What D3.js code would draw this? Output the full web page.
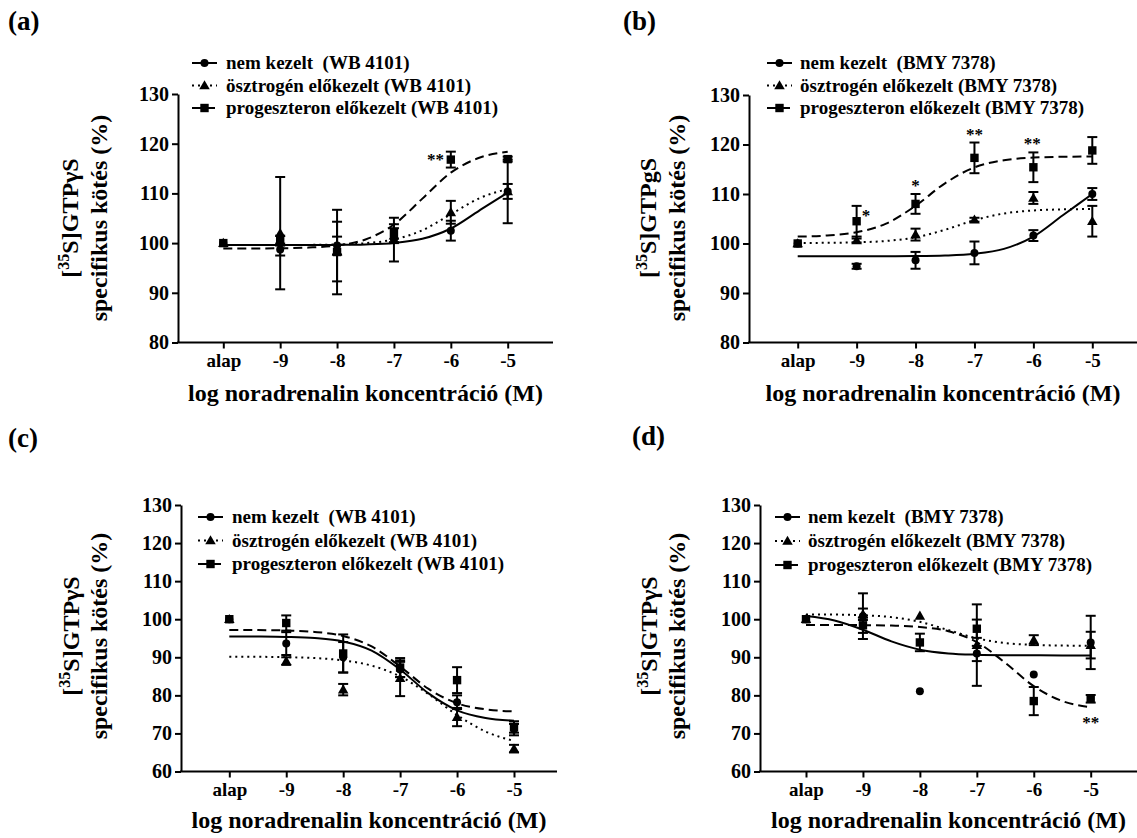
<!DOCTYPE html>
<html><head><meta charset="utf-8">
<script src="https://cdn.jsdelivr.net/npm/d3@7"></script>
<style>
body{margin:0;background:#fff;}
svg{display:block;}
svg text{font-family:"Liberation Serif","Times New Roman",Times,"DejaVu Serif",serif !important;font-weight:bold;fill:#000;}
</style></head><body>
<svg id="chart" width="1137" height="838"></svg>
<script>
// ---------- categories / ticks ----------
const xCats = [-10, -9, -8, -7, -6, -5];
const xTickLabels = ["alap", "-9", "-8", "-7", "-6", "-5"];
const curveX = [-10, -9.5, -9, -8.5, -8, -7.5, -7, -6.5, -6, -5.5, -5];
const yTicksTop = [80, 90, 100, 110, 120, 130];
const yTicksBottom = [60, 70, 80, 90, 100, 110, 120, 130];

const legendWB = ["nem kezelt  (WB 4101)", "ösztrogén előkezelt (WB 4101)", "progeszteron előkezelt (WB 4101)"];
const legendBMY = ["nem kezelt  (BMY 7378)", "ösztrogén előkezelt (BMY 7378)", "progeszteron előkezelt (BMY 7378)"];
const panelLabels = ["(a)", "(b)", "(c)", "(d)"];
const xTitle = "log noradrenalin koncentráció (M)";

// ---------- panel (a) ----------
const aNem = [100, 98.7, 99.5, 100.7, 102.5, 110.4];
const aNemSem = [0, 1.2, 1.8, 4.4, 2.0, 6.4];
const aOszt = [100, 102.0, 98.3, 101.5, 106.2, 110.4];
const aOsztSem = [0, 11.3, 6.0, 1.5, 2.3, 1.5];
const aProg = [100, 100.5, 98.2, 102.0, 116.8, 116.9];
const aProgSem = [0, 1.0, 8.5, 1.8, 1.6, 0.5];
const aNemFit = [99.60, 99.60, 99.60, 99.61, 99.64, 99.74, 100.03, 100.86, 102.94, 106.55, 110.16];
const aOsztFit = [99.60, 99.60, 99.61, 99.64, 99.72, 99.98, 100.73, 102.58, 105.80, 109.02, 110.87];
const aProgFit = [98.91, 98.92, 98.96, 99.10, 99.52, 100.73, 103.73, 108.95, 114.17, 117.17, 118.38];
const aStars = [{x: -6.27, y: 117.4, t: "**"}];

// ---------- panel (b) ----------
const bNem = [100, 95.4, 96.6, 98.1, 101.6, 110.0];
const bNemSem = [0, 0.5, 1.7, 2.3, 1.1, 1.2];
const bOszt = [100, 100.6, 101.8, 104.8, 109.2, 104.5];
const bOsztSem = [0, 0.4, 1.2, 0.4, 1.2, 3.1];
const bProg = [100, 104.5, 108.0, 117.3, 115.4, 118.8];
const bProgSem = [0, 3.1, 2.0, 3.1, 3.0, 2.7];
const bNemFit = [97.40, 97.40, 97.40, 97.42, 97.45, 97.56, 97.91, 98.91, 101.39, 105.70, 110.01];
const bOsztFit = [100.11, 100.14, 100.24, 100.51, 101.25, 102.77, 104.70, 106.06, 106.67, 106.89, 106.97];
const bProgFit = [101.40, 101.62, 102.27, 104.01, 107.61, 112.16, 115.38, 116.82, 117.35, 117.52, 117.57];
const bStars = [{x: -8.84, y: 106.2, t: "*"}, {x: -8.0, y: 112.3, t: "*"}, {x: -7.0, y: 122.5, t: "**"}, {x: -6.02, y: 120.7, t: "**"}];

// ---------- panel (c) ----------
const cNem = [100, 93.6, 90.0, 86.8, 78.2, 71.0];
const cNemSem = [0, 3.0, 4.0, 2.0, 1.8, 1.5];
const cOszt = [100, 89.0, 81.5, 84.5, 74.3, 66.0];
const cOsztSem = [0, 1.0, 1.5, 4.7, 2.4, 1.0];
const cProg = [100, 99.0, 91.0, 87.3, 84.0, 71.7];
const cProgSem = [0, 2.0, 5.0, 2.5, 3.4, 1.5];
const cNemFit = [95.49, 95.46, 95.36, 95.06, 94.16, 91.76, 86.80, 80.51, 76.07, 74.07, 73.35];
const cOsztFit = [90.17, 90.13, 90.03, 89.79, 89.19, 87.81, 84.97, 80.30, 74.83, 70.51, 68.02];
const cProgFit = [97.18, 97.15, 97.03, 96.67, 95.60, 92.84, 87.59, 81.68, 77.93, 76.33, 75.77];
const cStars = [];

// ---------- panel (d) ----------
const dNem = [100, 100.8, 81.1, 91.0, 85.5, 93.9];
const dNemSem = [0, 6.0, 0, 2.0, 0, 7.0];
const dOszt = [100, 101.3, 100.9, 93.2, 94.5, 93.2];
const dOsztSem = [0, 1.5, 0, 10.7, 1.3, 3.5];
const dProg = [100, 98.4, 93.9, 97.5, 78.5, 79.1];
const dProgSem = [0, 2.0, 2.3, 2.4, 3.7, 1.0];
const dNemFit = [100.85, 99.67, 97.24, 94.17, 92.00, 91.02, 90.67, 90.55, 90.52, 90.50, 90.50];
const dOsztFit = [101.27, 101.22, 101.05, 100.55, 99.31, 97.15, 94.99, 93.75, 93.25, 93.08, 93.03];
const dProgFit = [98.49, 98.48, 98.44, 98.32, 97.95, 96.84, 93.98, 88.54, 82.41, 78.52, 76.86];
const dStars = [{x: -5.0, y: 73.4, t: "**"}];

// ---------- layout ----------
const styles = [
  {dash: null, marker: "circle"},
  {dash: "2,4", marker: "triangle"},
  {dash: "9,5", marker: "square"}
];

const panels = [
  {label: panelLabels[0], lx: 8, ly: 30, ox: 178, x0: 223.3, x5: 507.7, right: 553, yTop: 94, yBot: 342.5,
   yDomain: [80, 130], yTicks: yTicksTop, leg: legendWB, legX: 192, legY: 63, legDy: 22.5, legTx: 226,
   yt1: 78, yt2: 107, ycy: 218, gtp: "γ", xTit: 58,
   series: [[aNem, aNemSem, aNemFit], [aOszt, aOsztSem, aOsztFit], [aProg, aProgSem, aProgFit]], stars: aStars},
  {label: panelLabels[1], lx: 623, ly: 30, ox: 749, x0: 797.7, x5: 1092.3, right: 1137, yTop: 95, yBot: 342.5,
   yDomain: [80, 130], yTicks: yTicksTop, leg: legendBMY, legX: 767, legY: 63, legDy: 22.5, legTx: 800,
   yt1: 656, yt2: 685, ycy: 218, gtp: "g", xTit: 58,
   series: [[bNem, bNemSem, bNemFit], [bOszt, bOsztSem, bOsztFit], [bProg, bProgSem, bProgFit]], stars: bStars},
  {label: panelLabels[2], lx: 8, ly: 447, ox: 181, x0: 229.3, x5: 514, right: 557, yTop: 505, yBot: 771.5,
   yDomain: [60, 130], yTicks: yTicksBottom, leg: legendWB, legX: 198, legY: 517, legDy: 23.5, legTx: 232,
   yt1: 79, yt2: 107, ycy: 636, gtp: "γ", xTit: 56,
   series: [[cNem, cNemSem, cNemFit], [cOszt, cOsztSem, cOsztFit], [cProg, cProgSem, cProgFit]], stars: cStars},
  {label: panelLabels[3], lx: 632, ly: 445, ox: 760, x0: 806, x5: 1090.7, right: 1137, yTop: 505, yBot: 771.5,
   yDomain: [60, 130], yTicks: yTicksBottom, leg: legendBMY, legX: 775, legY: 517, legDy: 24, legTx: 808,
   yt1: 657, yt2: 685, ycy: 636, gtp: "γ", xTit: 56,
   series: [[dNem, dNemSem, dNemFit], [dOszt, dOsztSem, dOsztFit], [dProg, dProgSem, dProgFit]], stars: dStars}
];

const FONT = '"Liberation Serif","Times New Roman",Times,serif';
const svg = d3.select("#chart").attr("font-family", FONT);
svg.append("rect").attr("width", 1137).attr("height", 838).attr("fill", "#fff");

function drawMarker(g, type, cx, cy) {
  if (type === "circle") {
    g.append("circle").attr("cx", cx).attr("cy", cy).attr("r", 4).attr("fill", "#000");
  } else if (type === "square") {
    g.append("rect").attr("x", cx - 4.2).attr("y", cy - 4.2).attr("width", 8.4).attr("height", 8.4).attr("fill", "#000");
  } else {
    g.append("path").attr("d", d3.symbol(d3.symbolTriangle, 48)()).attr("transform", `translate(${cx},${cy + 0.8})`).attr("fill", "#000");
  }
}

panels.forEach(p => {
  const g = svg.append("g").attr("font-family", FONT);
  const x = d3.scaleLinear().domain([-10, -5]).range([p.x0, p.x5]);
  const y = d3.scaleLinear().domain(p.yDomain).range([p.yBot, p.yTop]);

  // panel label
  g.append("text").attr("x", p.lx).attr("y", p.ly).attr("font-size", 27).text(p.label);

  // y axis
  const ya = g.append("g").attr("transform", `translate(${p.ox},0)`)
    .call(d3.axisLeft(y).tickValues(p.yTicks).tickSize(6).tickPadding(3).tickSizeOuter(0));
  ya.attr("font-family", FONT).attr("font-size", 20);
  ya.selectAll("text").attr("font-size", 20).attr("fill", "#000");
  ya.selectAll("line,path").attr("stroke", "#000").attr("stroke-width", 2);

  // x axis
  const xa = g.append("g").attr("transform", `translate(0,${p.yBot})`)
    .call(d3.axisBottom(x).tickValues(xCats).tickFormat((d, i) => xTickLabels[i]).tickSize(6).tickPadding(5).tickSizeOuter(0));
  xa.attr("font-family", FONT).attr("font-size", 19);
  xa.select(".domain").attr("d", `M${p.ox - 1},0H${p.right}`);
  xa.selectAll("text").attr("font-size", 19).attr("fill", "#000");
  xa.selectAll("line,path").attr("stroke", "#000").attr("stroke-width", 2);

  // x title
  g.append("text").attr("x", (p.ox + p.right) / 2).attr("y", p.yBot + p.xTit)
    .attr("text-anchor", "middle").attr("font-size", 24).text(xTitle);

  // y title (two lines, rotated)
  const yt = g.append("g").attr("transform", `translate(0,${p.ycy}) rotate(-90)`);
  const t1 = yt.append("text").attr("x", 0).attr("y", p.yt1).attr("text-anchor", "middle").attr("font-size", 24);
  t1.append("tspan").text("[");
  t1.append("tspan").attr("font-size", 16).attr("dy", -9).text("35");
  t1.append("tspan").attr("dy", 9).text("S]GTP" + p.gtp + "S");
  yt.append("text").attr("x", 0).attr("y", p.yt2).attr("text-anchor", "middle").attr("font-size", 24)
    .text("specifikus kötés (%)");

  // curves
  const line = d3.line().x(d => x(d[0])).y(d => y(d[1])).curve(d3.curveMonotoneX);
  p.series.forEach((s, si) => {
    const pts = curveX.map((cx, i) => [cx, s[2][i]]);
    g.append("path").attr("d", line(pts)).attr("fill", "none").attr("stroke", "#000")
      .attr("stroke-width", 2).attr("stroke-dasharray", styles[si].dash);
  });

  // error bars + markers
  p.series.forEach((s, si) => {
    const sg = g.append("g");
    xCats.forEach((c, i) => {
      const m = s[0][i], e = s[1][i];
      const px = x(c);
      if (e > 0) {
        const y1 = y(m + e), y2 = y(m - e);
        sg.append("line").attr("x1", px).attr("x2", px).attr("y1", y1).attr("y2", y2).attr("stroke", "#000").attr("stroke-width", 2);
        [y1, y2].forEach(yy => sg.append("line").attr("x1", px - 5).attr("x2", px + 5).attr("y1", yy).attr("y2", yy).attr("stroke", "#000").attr("stroke-width", 2));
      }
      drawMarker(sg, styles[si].marker, px, y(m));
    });
  });

  // significance stars
  p.stars.forEach(st => {
    g.append("text").attr("x", x(st.x)).attr("y", y(st.y)).attr("dy", "0.47em")
      .attr("text-anchor", "middle").attr("font-size", 17).attr("fill", "#000").text(st.t);
  });

  // legend
  p.leg.forEach((lab, li) => {
    const ly = p.legY + li * p.legDy;
    g.append("line").attr("x1", p.legX).attr("x2", p.legX + 25).attr("y1", ly).attr("y2", ly)
      .attr("stroke", "#000").attr("stroke-width", 2).attr("stroke-dasharray", styles[li].dash);
    drawMarker(g, styles[li].marker, p.legX + 12.5, ly);
    g.append("text").attr("x", p.legTx).attr("y", ly).attr("dy", "0.33em").attr("font-size", 19)
      .style("white-space", "pre").text(lab);
  });
});
</script>
</body></html>
